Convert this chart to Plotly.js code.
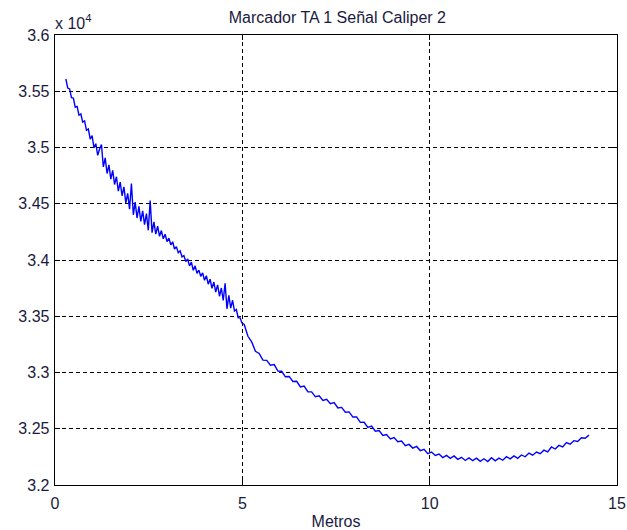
<!DOCTYPE html>
<html>
<head>
<meta charset="utf-8">
<script src="https://cdn.plot.ly/plotly-3.0.1.min.js"></script>
<style>html,body{margin:0;padding:0;background:#fff;}#chart{width:627px;height:530px;}</style>
</head>
<body>
<div id="chart"></div>
<script>
// Segment 1 (noisy part, 0.29 - 5 m)
const metrosA = [0.29,0.34,0.39,0.44,0.49,0.54,0.59,0.64,0.69,0.74,0.79,0.84,0.89,0.94,0.99,1.04,1.09,1.14,1.19,1.24,1.29,1.34,1.39,1.44,1.49,1.54,1.59,1.64,1.69,1.74,1.79,1.84,1.89,1.94,1.99,2.04,2.09,2.14,2.19,2.24,2.29,2.34,2.39,2.44,2.49,2.54,2.59,2.64,2.69,2.74,2.79,2.84,2.89,2.94,2.99,3.04,3.09,3.14,3.19,3.24,3.29,3.34,3.39,3.44,3.49,3.54,3.59,3.64,3.69,3.74,3.79,3.84,3.89,3.94,3.99,4.04,4.09,4.14,4.19,4.24,4.29,4.34,4.39,4.44,4.49,4.54,4.59,4.64,4.69,4.74,4.79,4.84,4.89,4.94,4.99];
const senalA = [35609,35528,35521,35443,35440,35358,35365,35287,35298,35225,35236,35152,35164,35075,35106,34998,35034,34930,34986,35027,34827,34908,34769,34845,34719,34797,34671,34740,34613,34692,34571,34650,34508,34592,34451,34680,34402,34515,34373,34476,34343,34436,34314,34412,34264,34528,34243,34339,34230,34301,34211,34262,34188,34229,34164,34194,34135,34162,34098,34119,34065,34081,34028,34039,33986,34009,33948,33981,33909,33948,33881,33910,33855,33885,33820,33860,33785,33829,33749,33804,33714,33779,33678,33751,33640,33793,33566,33685,33573,33642,33547,33560,33487,33486,33439];
// Segment 2 (smooth part, 5 - 14.25 m)
const metrosB = [5.05,5.15,5.25,5.35,5.45,5.55,5.65,5.75,5.85,5.95,6.05,6.15,6.25,6.35,6.45,6.55,6.65,6.75,6.85,6.95,7.05,7.15,7.25,7.35,7.45,7.55,7.65,7.75,7.85,7.95,8.05,8.15,8.25,8.35,8.45,8.55,8.65,8.75,8.85,8.95,9.05,9.15,9.25,9.35,9.45,9.55,9.65,9.75,9.85,9.95,10.05,10.15,10.25,10.35,10.45,10.55,10.65,10.75,10.85,10.95,11.05,11.15,11.25,11.35,11.45,11.55,11.65,11.75,11.85,11.95,12.05,12.15,12.25,12.35,12.45,12.55,12.65,12.75,12.85,12.95,13.05,13.15,13.25,13.35,13.45,13.55,13.65,13.75,13.85,13.95,14.05,14.15,14.25];
const senalB = [33427,33322,33272,33188,33169,33110,33108,33065,33070,33013,33011,32962,32965,32920,32922,32872,32879,32828,32828,32784,32792,32752,32762,32722,32733,32685,32690,32647,32650,32604,32605,32557,32558,32512,32524,32478,32484,32440,32448,32409,32422,32385,32391,32349,32361,32328,32343,32306,32317,32278,32293,32263,32275,32244,32263,32237,32258,32228,32246,32218,32241,32216,32238,32210,32233,32209,32242,32215,32239,32220,32252,32232,32259,32237,32267,32251,32284,32265,32293,32278,32310,32295,32338,32320,32352,32339,32377,32363,32394,32387,32420,32416,32443];

const xTicks = [0,5,10,15];
const yTicks = [32000,32500,33000,33500,34000,34500,35000,35500,36000];
const yTickText = ['3.2','3.25','3.3','3.35','3.4','3.45','3.5','3.55','3.6'];

const fam = 'Liberation Sans, Arial, sans-serif';
const txtColor = '#1a1a40';

const trace = {
  x: metrosA.concat(metrosB),
  y: senalA.concat(senalB),
  type:'scatter', mode:'lines',
  line:{color:'#0000ff', width:1.4},
  hoverinfo:'skip'
};

const axisCommon = {
  showline:true, linecolor:'#000', linewidth:1.3, mirror:'ticks',
  ticks:'inside', ticklen:5, tickcolor:'#000',
  showgrid:true, gridcolor:'#000', gridwidth:1, griddash:'4px,3px',
  zeroline:false, tickfont:{family:fam, size:16, color:txtColor},
  ticklabeloverflow:'allow'
};

const layout = {
  width:627, height:530,
  margin:{l:55, r:10, t:35, b:45},
  paper_bgcolor:'#fff', plot_bgcolor:'#fff',
  showlegend:false,
  title:{text:'Marcador TA 1 Señal Caliper 2', font:{family:fam, size:16, color:txtColor}, x:0.538, xanchor:'center', y:0.968, yanchor:'middle'},
  xaxis:Object.assign({}, axisCommon, {range:[0,15], tickvals:xTicks, ticktext:xTicks.map(String), ticklabelstandoff:3,
    title:{text:'Metros', font:{family:fam, size:16, color:txtColor}, standoff:6}}),
  yaxis:Object.assign({}, axisCommon, {range:[32000,36000], tickvals:yTicks, ticktext:yTickText, ticklabelstandoff:1}),
  annotations:[{xref:'paper', yref:'paper', x:0, y:1, xanchor:'left', yanchor:'bottom', yshift:1, xshift:-2,
    text:'x 10<sup>4</sup>', showarrow:false, font:{family:fam, size:16, color:txtColor}}]
};

Plotly.newPlot('chart', [trace], layout, {staticPlot:true, displayModeBar:false});
</script>
</body>
</html>
